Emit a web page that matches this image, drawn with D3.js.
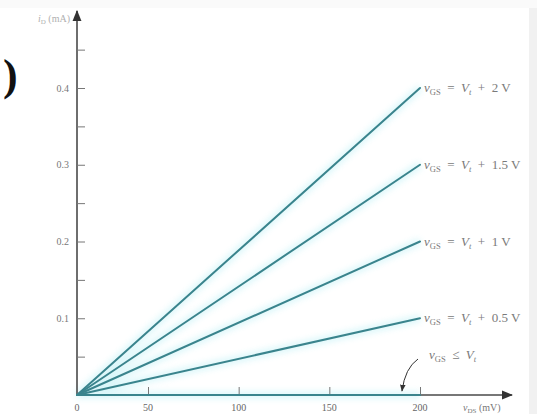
<!DOCTYPE html>
<html>
<head>
<meta charset="utf-8">
<script src="https://cdn.jsdelivr.net/npm/d3@7"></script>
<style>
  html, body { margin: 0; padding: 0; background: #ffffff; }
  svg { display: block; }
  text { font-family: "Liberation Serif", "DejaVu Serif", serif; }
</style>
</head>
<body>
<svg id="chart" width="537" height="414"></svg>
<script>
// Triode-region characteristics: i_D versus small v_DS for several overdrive voltages
const overdriveLabels = ["2", "1.5", "1", "0.5"];   // V_GS − V_t in volts
const iDAtEnd = [0.4, 0.3, 0.2, 0.1];               // i_D (mA) reached at v_DS = 200 mV
const vDSEnd = 200;                                  // mV
const cutoffCurrent = 0;                             // v_GS ≤ V_t → no current
const xTickValues = [0, 50, 100, 150, 200];
const xTickLabels = ["0", "50", "100", "150", "200"];
const yTickValues = [0.1, 0.2, 0.3, 0.4];
const yTickLabels = ["0.1", "0.2", "0.3", "0.4"];
const yMinorTicks = [0.05, 0.15, 0.25, 0.35, 0.45];

const svg = d3.select("#chart");

// paper tone at the right edge
svg.append("rect").attr("x", 529).attr("y", 0).attr("width", 8).attr("height", 414).attr("fill", "#f1f1f1");
svg.append("rect").attr("x", 0).attr("y", 0).attr("width", 537).attr("height", 8).attr("fill", "#fafafa");

const x = d3.scaleLinear().domain([0, 50, 200]).range([77, 148, 420]);
const y = d3.scaleLinear().domain([0, 0.4]).range([395, 88]);

const defs = svg.append("defs");
defs.append("filter").attr("id", "glow").attr("x", "-20%").attr("y", "-50%").attr("width", "140%").attr("height", "200%")
  .append("feGaussianBlur").attr("stdDeviation", 3);
defs.append("marker").attr("id", "head").attr("viewBox", "0 0 10 10")
  .attr("refX", 9).attr("refY", 5).attr("markerWidth", 7).attr("markerHeight", 7)
  .attr("orient", "auto-start-reverse")
  .append("path").attr("d", "M0,1 L10,5 L0,9 Z").attr("fill", "#333");

const lineGen = d3.line().x(d => x(d[0])).y(d => y(d[1]));
const series = iDAtEnd.map(v => [[0, 0], [vDSEnd, v]]);
const cutoff = [[0, cutoffCurrent], [vDSEnd, cutoffCurrent]];

// soft cyan halo under the curves
const halo = svg.append("g").attr("filter", "url(#glow)").attr("opacity", 0.32);
series.concat([cutoff]).forEach(s => {
  halo.append("path").attr("d", lineGen(s)).attr("fill", "none")
    .attr("stroke", "#8fe6f0").attr("stroke-width", 7);
});

// axes
svg.append("line").attr("x1", x(0)).attr("y1", y(0)).attr("x2", 512).attr("y2", y(0))
  .attr("stroke", "#4a4a4a").attr("stroke-width", 1.6).attr("marker-end", "url(#head)");
svg.append("line").attr("x1", x(0)).attr("y1", y(0)).attr("x2", x(0)).attr("y2", 11)
  .attr("stroke", "#4a4a4a").attr("stroke-width", 1.6).attr("marker-end", "url(#head)");

// y ticks (inward) + labels
const yAxis = d3.axisRight(y).tickValues(yTickValues.concat(yMinorTicks)).tickSize(8).tickFormat("");
const yg = svg.append("g").attr("transform", `translate(${x(0)},0)`).call(yAxis);
yg.select(".domain").remove();
yg.selectAll(".tick line").attr("stroke", "#777").attr("stroke-width", 1);
svg.append("g").selectAll("text").data(yTickValues).join("text")
  .attr("x", 69).attr("y", d => y(d) + 3.5).attr("text-anchor", "end")
  .attr("font-size", 10).attr("fill", "#777")
  .text((d, i) => yTickLabels[i]);

// x ticks (upward) + labels
const xAxis = d3.axisTop(x).tickValues(xTickValues.slice(1)).tickSize(8).tickFormat("");
const xg = svg.append("g").attr("transform", `translate(0,${y(0)})`).call(xAxis);
xg.select(".domain").remove();
xg.selectAll(".tick line").attr("stroke", "#777").attr("stroke-width", 1);
svg.append("g").selectAll("text").data(xTickValues).join("text")
  .attr("x", d => x(d)).attr("y", 411).attr("text-anchor", "middle")
  .attr("font-size", 10).attr("fill", "#666")
  .text((d, i) => xTickLabels[i]);

// curves
svg.append("g").selectAll("path").data(series.concat([cutoff])).join("path")
  .attr("d", lineGen).attr("fill", "none")
  .attr("stroke", "#3a848d").attr("stroke-width", 2).attr("stroke-linecap", "round");

// label helper: v_GS = V_t + ...
function vgsLabel(g, px, py, rel, tail) {
  const t = g.append("text").attr("x", px).attr("y", py + 4)
    .attr("font-size", 13).attr("fill", "#7a7a7a").attr("xml:space", "preserve");
  t.append("tspan").attr("font-style", "italic").text("v");
  t.append("tspan").attr("font-size", 8.5).attr("dy", 3).text("GS");
  t.append("tspan").attr("dy", -3).text(` \u00a0${rel}\u00a0 `);
  t.append("tspan").attr("font-style", "italic").text("V");
  t.append("tspan").attr("font-size", 8.5).attr("dy", 3).attr("font-style", "italic").text("t");
  if (tail) t.append("tspan").attr("dy", -3).text(` \u00a0+\u00a0 ${tail}`);
}
const labels = svg.append("g");
iDAtEnd.forEach((v, i) => {
  vgsLabel(labels, x(vDSEnd) + 4, y(v), "=", `${overdriveLabels[i]} V`);
});
vgsLabel(labels, x(vDSEnd) + 9, 355, "\u2264", "");

// pointer to the cutoff line
svg.append("path").attr("d", "M418,359 Q405,368 402,391")
  .attr("fill", "none").attr("stroke", "#333").attr("stroke-width", 1)
  .attr("marker-end", "url(#head)");

// axis titles
const xt = svg.append("text").attr("x", 463).attr("y", 411).attr("font-size", 10).attr("fill", "#777");
xt.append("tspan").attr("font-style", "italic").text("v");
xt.append("tspan").attr("font-size", 7).attr("dy", 2).text("DS");
xt.append("tspan").attr("dy", -2).text(" (mV)");

const yt = svg.append("text").attr("x", 70).attr("y", 22).attr("text-anchor", "end").attr("font-size", 10).attr("fill", "#b0b0b0");
yt.append("tspan").attr("font-style", "italic").text("i");
yt.append("tspan").attr("font-size", 7).attr("dy", 2).text("D");
yt.append("tspan").attr("dy", -2).text(" (mA)");

// part marker carried over from the figure sheet
svg.append("text").attr("x", 3).attr("y", 90).attr("font-size", 44).attr("font-weight", "bold")
  .attr("fill", "#111").text(")");
</script>
</body>
</html>
